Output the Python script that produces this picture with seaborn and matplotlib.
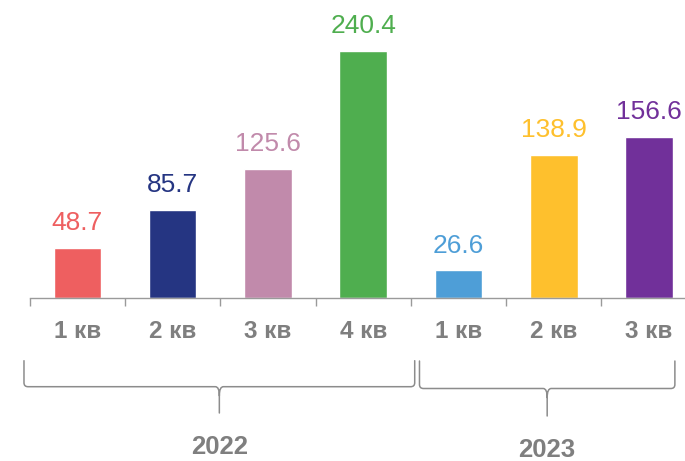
import numpy as np
import pandas as pd
import matplotlib
matplotlib.use("Agg")
import matplotlib.pyplot as plt
from matplotlib.path import Path
from matplotlib.patches import PathPatch
import seaborn as sns

# ---- data ----
quarters = ["1 кв", "2 кв", "3 кв", "4 кв", "1 кв", "2 кв", "3 кв"]
years = ["2022", "2022", "2022", "2022", "2023", "2023", "2023"]
values = [48.7, 85.7, 125.6, 240.4, 26.6, 138.9, 156.6]
colors = ["#EE5F60", "#253582", "#C18AAB", "#4FAE4F", "#4E9ED7", "#FEC02D", "#71309A"]
group_labels = ["2022", "2023"]

sns.set_theme(style="white")
plt.rcParams["font.family"] = ["Liberation Sans", "DejaVu Sans"]

W, H = 685, 461
fig = plt.figure(figsize=(W / 100, H / 100), dpi=100)
base_px = 297.7
px_per_unit = 1.0275
ymax = 260
ax = fig.add_axes([29.7 / W, (H - base_px) / H, 667.1 / W, ymax * px_per_unit / H])

ids = [f"{y}-{q}" for y, q in zip(years, quarters)]
df = pd.DataFrame({"id": ids, "value": values, "quarter": quarters, "year": years})
sns.barplot(data=df, x="id", y="value", hue="id", palette=colors, width=0.5,
            saturation=1, legend=False, ax=ax, order=ids, hue_order=ids)

ax.set_xlim(-0.5, len(ids) - 0.5)
ax.set_ylim(0, ymax)
ax.set_xlabel("")
ax.set_ylabel("")
ax.set_yticks([])
for s in ["top", "right", "left"]:
    ax.spines[s].set_visible(False)
ax.spines["bottom"].set_color("#9a9a9a")
ax.spines["bottom"].set_linewidth(1.0)

n = len(ids)
ax.set_xticks(np.arange(-0.5, n, 1.0))
ax.set_xticklabels([])
ax.tick_params(axis="x", which="major", direction="out", length=6, width=1.0,
               color="#9a9a9a", bottom=True)
ax.set_xticks(np.arange(n), minor=True)
ax.set_xticklabels(quarters, minor=True, fontsize=17.5, fontweight="bold", color="#7F7F7F")
ax.tick_params(axis="x", which="minor", length=0, pad=16)

for cont, col in zip(ax.containers, colors):
    ax.bar_label(cont, fmt="%.1f", padding=9, fontsize=19, color=col, clip_on=False)

# ---- braces ----
def brace(x0, x1, ytop, yh, ytip, rx_px=4, ry_px=4, mrx_px=4, mry_px=9):
    ux = 95.3
    rx, ry = rx_px / ux, ry_px / px_per_unit
    mrx, mry = mrx_px / ux, mry_px / px_per_unit
    xm = (x0 + x1) / 2
    verts = [
        (x0, ytop), (x0, yh + ry), (x0, yh), (x0 + rx, yh),
        (xm - mrx, yh), (xm, yh), (xm, yh - mry), (xm, ytip),
        (xm, yh - mry), (xm, yh), (xm + mrx, yh),
        (x1 - rx, yh), (x1, yh), (x1, yh + ry), (x1, ytop),
    ]
    codes = [Path.MOVETO, Path.LINETO, Path.CURVE3, Path.CURVE3,
             Path.LINETO, Path.CURVE3, Path.CURVE3, Path.LINETO,
             Path.MOVETO, Path.CURVE3, Path.CURVE3,
             Path.LINETO, Path.CURVE3, Path.CURVE3, Path.LINETO]
    p = PathPatch(Path(verts, codes), fill=False, edgecolor="#8c8c8c", lw=1.1,
                  clip_on=False, capstyle="round", joinstyle="round")
    ax.add_patch(p)
    return xm

def to_data(ypx):
    return (base_px - ypx) / px_per_unit

brace_spans = [(-0.56, 3.54), (3.59, 6.27)]
brace_y = [(360.7, 386.7, 413.0, 447.5), (361.0, 388.5, 416.0, 450.0)]
for (x0, x1), (yt, yh, yp, ylab), lab in zip(brace_spans, brace_y, group_labels):
    xm = brace(x0, x1, to_data(yt), to_data(yh), to_data(yp))
    ax.text(xm, to_data(ylab), lab, ha="center", va="center", fontsize=18.5,
            fontweight="bold", color="#7F7F7F", clip_on=False)

fig.savefig("out.png", dpi=100, facecolor="white")
